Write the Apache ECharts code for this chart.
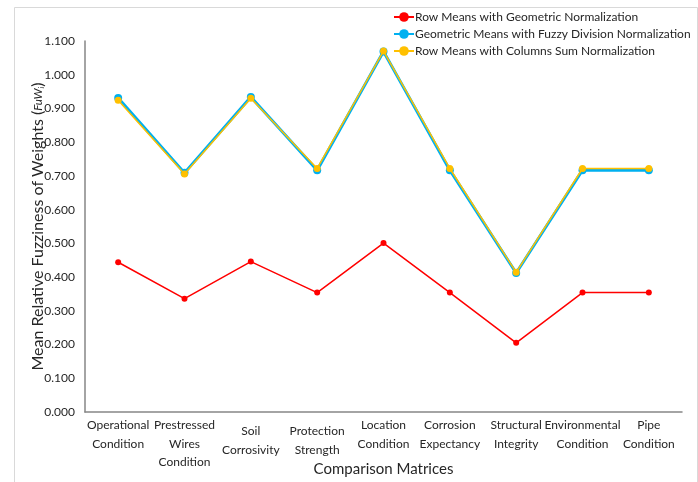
<!DOCTYPE html>
<html>
<head>
<meta charset="utf-8">
<script src="https://cdn.jsdelivr.net/npm/echarts@6/dist/echarts.min.js"></script>
<style>
  html, body { margin: 0; padding: 0; background: #ffffff; }
  #chart { width: 698px; height: 482px; }
</style>
</head>
<body>
<div id="chart"></div>
<script>
// Comparison matrices along the x axis
const categories = [
  'Operational\nCondition',
  'Prestressed\nWires\nCondition',
  'Soil\nCorrosivity',
  'Protection\nStrength',
  'Location\nCondition',
  'Corrosion\nExpectancy',
  'Structural\nIntegrity',
  'Environmental\nCondition',
  'Pipe\nCondition'
];

// Mean relative fuzziness of weights per normalization method
const rowMeansGeometric = [0.444, 0.336, 0.446, 0.354, 0.501, 0.354, 0.205, 0.354, 0.354];
const geoMeansFuzzyDivision = [0.931, 0.709, 0.934, 0.717, 1.069, 0.717, 0.412, 0.717, 0.717];
const rowMeansColumnsSum = [0.924, 0.706, 0.930, 0.722, 1.070, 0.722, 0.414, 0.722, 0.722];

const seriesNames = [
  'Row Means with Geometric Normalization',
  'Geometric Means with Fuzzy Division Normalization',
  'Row Means with Columns Sum Normalization'
];

const yTicks = { min: 0, max: 1.1, interval: 0.1 };

const FONT = 'Lato, "Open Sans", sans-serif';

// Two-line labels that sit a little lower under their tick
const loweredLabels = new Set(['Soil\nCorrosivity', 'Protection\nStrength']);
const axisData = categories.map(c => loweredLabels.has(c)
  ? { value: c, textStyle: { padding: [6, 0, 0, 0] } }
  : c);

const chart = echarts.init(document.getElementById('chart'));

chart.setOption({
  backgroundColor: '#ffffff',
  animation: false,
  textStyle: { fontFamily: FONT },
  graphic: [{
    type: 'rect',
    left: 12, top: 5,
    shape: { width: 683, height: 490 },
    style: { fill: 'none', stroke: '#d9d9d9', lineWidth: 1 },
    silent: true, z: -1
  }],
  legend: {
    orient: 'vertical',
    left: 388,
    top: 6,
    itemWidth: 20,
    itemHeight: 12,
    itemGap: 5,
    data: seriesNames,
    textStyle: { fontSize: 12, color: '#262626', fontFamily: FONT, padding: [0, 0, 0, -4] }
  },
  grid: { left: 85, right: 16, top: 41, bottom: 70, containLabel: false, outerBoundsMode: 'none' },
  xAxis: {
    type: 'category',
    data: axisData,
    boundaryGap: true,
    axisLine: { lineStyle: { color: '#868686', width: 1.5 } },
    axisTick: { show: false },
    axisLabel: {
      interval: 0,
      margin: 4,
      fontSize: 12,
      lineHeight: 18.5,
      color: '#262626',
      fontFamily: FONT,
      verticalAlign: 'top'
    },
    name: 'Comparison Matrices',
    nameLocation: 'middle',
    nameGap: 50,
    nameMoveOverlap: false,
    nameTextStyle: { fontSize: 15, color: '#262626', fontFamily: FONT }
  },
  yAxis: {
    type: 'value',
    min: yTicks.min,
    max: yTicks.max,
    interval: yTicks.interval,
    axisLine: { show: true, lineStyle: { color: '#868686', width: 1.5 } },
    axisTick: { show: false },
    splitLine: { show: false },
    axisLabel: {
      margin: 10,
      fontSize: 12,
      color: '#262626',
      fontFamily: FONT,
      formatter: v => v.toFixed(3)
    },
    name: 'Mean Relative Fuzziness of Weights ({it|FuW}{sub|i})',
    nameLocation: 'middle',
    nameGap: 39,
    nameRotate: 90,
    nameMoveOverlap: false,
    nameTextStyle: {
      fontSize: 16,
      color: '#262626',
      fontFamily: FONT,
      rich: {
        it: { fontSize: 11.5, fontStyle: 'italic', color: '#262626', fontFamily: FONT },
        sub: { fontSize: 7.5, fontStyle: 'italic', color: '#262626', fontFamily: FONT, verticalAlign: 'bottom', padding: [6, 0, 0, 0] }
      }
    }
  },
  series: [
    {
      name: seriesNames[0],
      type: 'line',
      data: rowMeansGeometric,
      color: '#ff0000',
      symbol: 'circle',
      symbolSize: 6,
      lineStyle: { width: 1.5, color: '#ff0000' },
      itemStyle: { color: '#ff0000' },
      z: 2
    },
    {
      name: seriesNames[1],
      type: 'line',
      data: geoMeansFuzzyDivision,
      color: '#00b0f0',
      symbol: 'circle',
      symbolSize: 8,
      lineStyle: { width: 3, color: '#00b0f0' },
      itemStyle: { color: '#00b0f0' },
      z: 3
    },
    {
      name: seriesNames[2],
      type: 'line',
      data: rowMeansColumnsSum,
      color: '#ffc000',
      symbol: 'circle',
      symbolSize: 7,
      lineStyle: { width: 1.5, color: '#ffc000' },
      itemStyle: { color: '#ffc000' },
      z: 4
    }
  ]
});
</script>
</body>
</html>
